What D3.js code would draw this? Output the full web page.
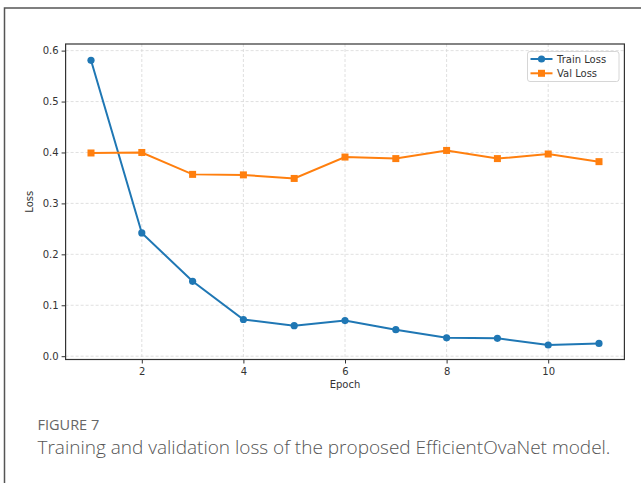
<!DOCTYPE html>
<html>
<head>
  <meta charset="utf-8">
  <script src="https://d3js.org/d3.v7.min.js"></script>
  <style>
    body { margin: 0; background: #fff; }
    svg { display: block; }
    .tick text { font-family: 'DejaVu Sans', sans-serif; font-size: 10px; fill: #333; }
    .grid line { stroke: #d8d8d8; stroke-dasharray: 3,2; stroke-width: 0.8; }
  </style>
</head>
<body>
<script>
  // values
  var epochs = [1, 2, 3, 4, 5, 6, 7, 8, 9, 10, 11];
  var trainLoss = [0.581, 0.242, 0.147, 0.072, 0.060, 0.070, 0.052, 0.036, 0.035, 0.022, 0.025];
  var valLoss = [0.399, 0.400, 0.357, 0.356, 0.349, 0.391, 0.388, 0.404, 0.388, 0.397, 0.382];
  var xTicks = [2, 4, 6, 8, 10];
  var yTicks = [0.0, 0.1, 0.2, 0.3, 0.4, 0.5, 0.6];
  var seriesNames = ["Train Loss", "Val Loss"];
  var captionLabel = "FIGURE 7";
  var captionText = "Training and validation loss of the proposed EfficientOvaNet model.";

  var svg = d3.select("body").append("svg")
      .attr("width", 641)
      .attr("height", 483);

  // outer frame (top and left edges visible)
  svg.append("path")
      .attr("d", "M4.5,483V8H641")
      .attr("fill", "none")
      .attr("stroke", "#555")
      .attr("stroke-width", 1.5);

  var pLeft = 65.6, pRight = 624.4, pTop = 44, pBottom = 359.5;

  var x = d3.scaleLinear().domain([0.5, 11.5]).range([pLeft, pRight]);
  var y = d3.scaleLinear().domain([-0.0065, 0.613]).range([pBottom, pTop]);

  // grid
  svg.append("g").attr("class", "grid")
    .selectAll("line").data(xTicks).enter().append("line")
      .attr("x1", function (d) { return x(d); })
      .attr("x2", function (d) { return x(d); })
      .attr("y1", pTop).attr("y2", pBottom);
  svg.append("g").attr("class", "grid")
    .selectAll("line").data(yTicks).enter().append("line")
      .attr("x1", pLeft).attr("x2", pRight)
      .attr("y1", function (d) { return y(d); })
      .attr("y2", function (d) { return y(d); });

  // axes
  var xAxis = svg.append("g")
      .attr("transform", "translate(0," + pBottom + ")")
      .call(d3.axisBottom(x).tickValues(xTicks).tickFormat(d3.format("d"))
        .tickSize(4).tickPadding(4));
  var yAxis = svg.append("g")
      .attr("transform", "translate(" + pLeft + ",0)")
      .call(d3.axisLeft(y).tickValues(yTicks).tickFormat(d3.format(".1f"))
        .tickSize(4).tickPadding(3));
  xAxis.select(".domain").remove();
  yAxis.select(".domain").remove();
  svg.selectAll(".tick line").attr("stroke", "#333");

  svg.append("rect")
      .attr("x", pLeft).attr("y", pTop)
      .attr("width", pRight - pLeft).attr("height", pBottom - pTop)
      .attr("fill", "none").attr("stroke", "#333").attr("stroke-width", 1.2);

  svg.append("text")
      .attr("x", (pLeft + pRight) / 2).attr("y", 388)
      .attr("text-anchor", "middle")
      .attr("font-family", "DejaVu Sans, sans-serif")
      .attr("font-size", "10px").attr("fill", "#333")
      .text("Epoch");
  svg.append("text")
      .attr("transform", "translate(33," + (pTop + pBottom) / 2 + ") rotate(-90)")
      .attr("text-anchor", "middle")
      .attr("font-family", "DejaVu Sans, sans-serif")
      .attr("font-size", "10px").attr("fill", "#333")
      .text("Loss");

  // lines
  var colors = ["#1f77b4", "#ff7f0e"];
  var series = [trainLoss, valLoss];
  var line = d3.line()
      .x(function (d, i) { return x(epochs[i]); })
      .y(function (d) { return y(d); });

  series.forEach(function (vals, k) {
    svg.append("path")
        .datum(vals)
        .attr("d", line)
        .attr("fill", "none")
        .attr("stroke", colors[k])
        .attr("stroke-width", 2);
    if (k === 0) {
      svg.selectAll(".pt" + k).data(vals).enter().append("circle")
          .attr("cx", function (d, i) { return x(epochs[i]); })
          .attr("cy", function (d) { return y(d); })
          .attr("r", 3.6)
          .attr("fill", colors[k]);
    } else {
      svg.selectAll(".pt" + k).data(vals).enter().append("rect")
          .attr("x", function (d, i) { return x(epochs[i]) - 3.5; })
          .attr("y", function (d) { return y(d) - 3.5; })
          .attr("width", 7).attr("height", 7)
          .attr("fill", colors[k]);
    }
  });

  // legend
  var lg = svg.append("g");
  lg.append("rect")
      .attr("x", 527.5).attr("y", 51.5)
      .attr("width", 91.5).attr("height", 30)
      .attr("rx", 2.5)
      .attr("fill", "#fff").attr("fill-opacity", 0.8)
      .attr("stroke", "#ccc").attr("stroke-width", 0.8);
  seriesNames.forEach(function (name, k) {
    var ly = 59 + k * 14.3;
    lg.append("line")
        .attr("x1", 530.5).attr("x2", 552.5)
        .attr("y1", ly).attr("y2", ly)
        .attr("stroke", colors[k]).attr("stroke-width", 2);
    if (k === 0) {
      lg.append("circle").attr("cx", 541.5).attr("cy", ly).attr("r", 3.6).attr("fill", colors[k]);
    } else {
      lg.append("rect").attr("x", 538).attr("y", ly - 3.5).attr("width", 7).attr("height", 7).attr("fill", colors[k]);
    }
    lg.append("text")
        .attr("x", 557).attr("y", ly + 3.5)
        .attr("font-family", "DejaVu Sans, sans-serif")
        .attr("font-size", "10px").attr("fill", "#333")
        .text(name);
  });

  // caption
  svg.append("text")
      .attr("x", 37.5).attr("y", 429.5)
      .attr("font-family", "Open Sans, sans-serif")
      .attr("font-size", "14.5px").attr("fill", "#666")
      .text(captionLabel);
  svg.append("text")
      .attr("x", 37.5).attr("y", 454)
      .attr("font-family", "Open Sans, sans-serif")
      .attr("font-weight", 300)
      .attr("font-size", "19px").attr("fill", "#555")
      .text(captionText);
</script>
</body>
</html>
